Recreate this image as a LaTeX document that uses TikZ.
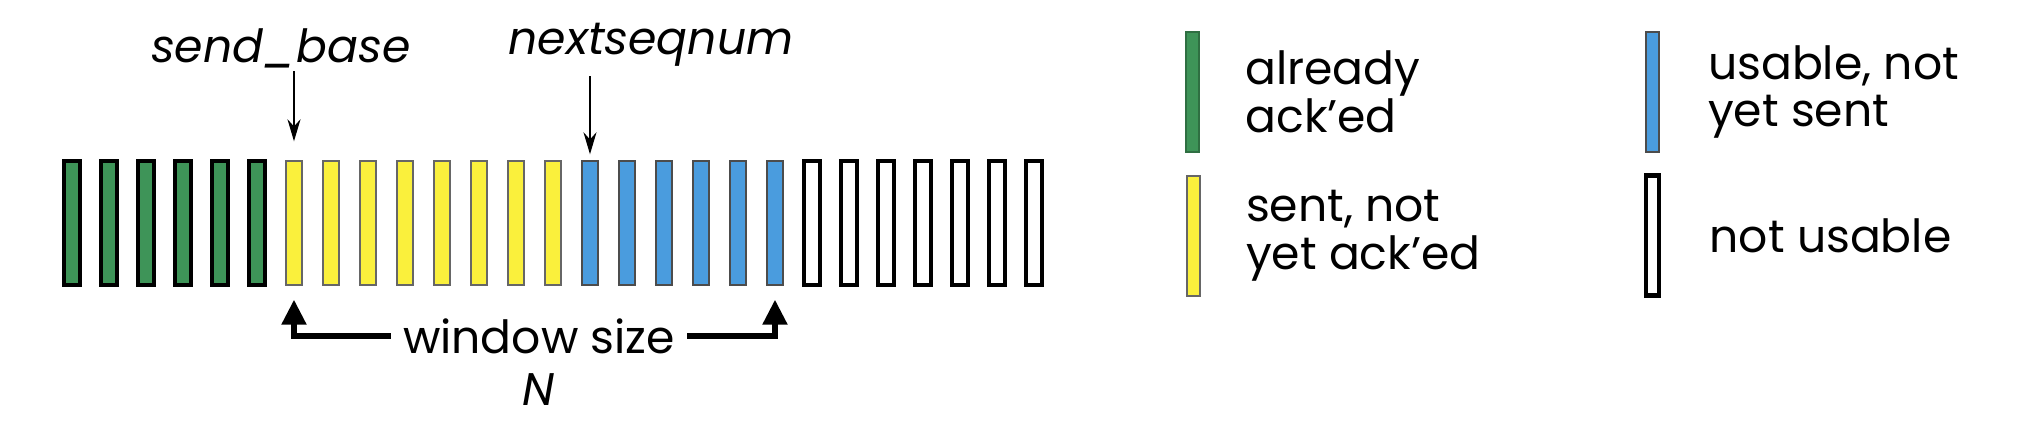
\documentclass[tikz,border=0pt]{standalone}
\usepackage{fontspec}
\setmainfont{Poppins}
\usetikzlibrary{positioning,arrows.meta}
\definecolor{ackgreen}{RGB}{62,148,88}
\definecolor{sentyellow}{RGB}{250,240,60}
\definecolor{usableblue}{RGB}{74,156,222}
\tikzset{
	slot/.style={inner sep=0pt, minimum width=0.16cm, minimum height=1.24cm, draw=black!60, line width=0.4pt},
	acked/.style={slot, fill=ackgreen, draw=black, line width=1.3pt},
	sent/.style={slot, fill=sentyellow},
	usable/.style={slot, fill=usableblue, draw=black!70},
	unusable/.style={slot, fill=white, draw=black, line width=1.3pt},
	key/.style={minimum width=0.13cm, minimum height=1.2cm},
	ptr/.style={-{Stealth[length=0.22cm,width=0.13cm]}, line width=0.6pt},
	winarr/.style={-{Triangle[width=0.24cm,length=0.25cm]}, line width=1.5pt, shorten >=0.14cm}
}
\begin{document}
\begin{tikzpicture}[font=\fontsize{13}{13.6}\selectfont]
	\useasboundingbox (0,0) rectangle (20.22,-4.30);
	% fenêtre d'émission
	\foreach \i in {0,...,5} \node[acked] (b\i) at ({0.72+0.37*\i}, -2.23) {};
	\foreach \i in {6,...,13} \node[sent] (b\i) at ({0.72+0.37*\i}, -2.23) {};
	\foreach \i in {14,...,19} \node[usable] (b\i) at ({0.72+0.37*\i}, -2.23) {};
	\foreach \i in {20,...,26} \node[unusable] (b\i) at ({0.72+0.37*\i}, -2.23) {};
	\node (sb) at (2.81, -0.48) {\itshape send\_base};
	\node (nsn) at (6.51, -0.45) {\itshape nextseqnum};
	\draw[ptr, shorten <=-0.09cm, shorten >=0.19cm] (b6.north |- sb.south) -- (b6.north);
	\draw[ptr, shorten <=-0.03cm, shorten >=0.06cm] (b14.north |- nsn.south) -- (b14.north);
	% taille de la fenêtre
	\node (win) at (5.39, -3.36) {window size};
	\node[below=-0.05cm of win] (n) {\itshape N};
	\draw[winarr] (win.west) -| (b6.south);
	\draw[winarr] (win.east) -| (b19.south);
	% légende
	\node[acked, key, draw=ackgreen!75!black, line width=0.6pt] (lg1) at (11.925, -0.92) {};
	\node[sent, key] (lg2) at (11.935, -2.36) {};
	\node[usable, key] (lg3) at (16.525, -0.92) {};
	\node[unusable, key] (lg4) at (16.525, -2.355) {};
	\node[right=0.33cm of lg1, align=left] (t1) {already\\ack’ed};
	\node[right=0.33cm of lg2, align=left] (t2) {sent, not\\yet ack’ed};
	\node[right=0.36cm of lg3, align=left] (t3) {usable, not\\yet sent};
	\node[right=0.36cm of lg4, align=left] (t4) {not usable};
\end{tikzpicture}
\end{document}
